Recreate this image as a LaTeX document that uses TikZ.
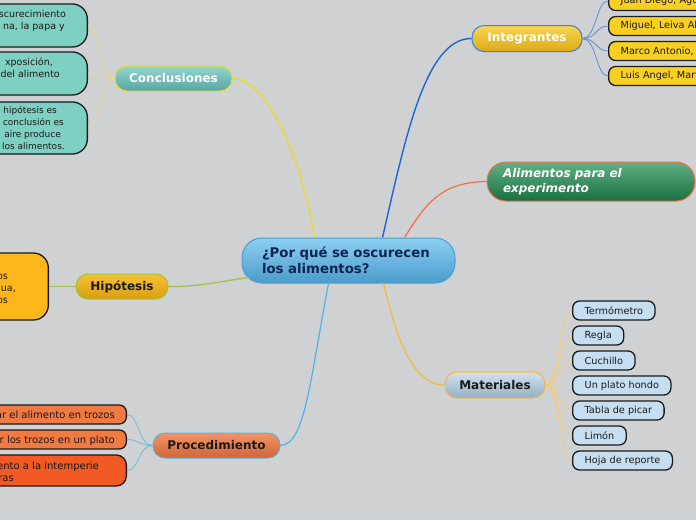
\documentclass[tikz,border=0pt]{standalone}
\usepackage{fontspec}
\setmainfont{DejaVu Sans}
\definecolor{bg}{HTML}{D0D1D3}
\definecolor{rootTop}{HTML}{8CD0F2}
\definecolor{rootBot}{HTML}{4A9CCC}
\definecolor{rootLine}{HTML}{4B9ED0}
\definecolor{rootText}{HTML}{0F2452}
\definecolor{intTop}{HTML}{F7D64E}
\definecolor{intBot}{HTML}{DDAA18}
\definecolor{intLine}{HTML}{3D7FD9}
\definecolor{intBranch}{HTML}{1E64D8}
\definecolor{intKid}{HTML}{F9D021}
\definecolor{intKidLine}{HTML}{5A8EE0}
\definecolor{aliTop}{HTML}{62B084}
\definecolor{aliBot}{HTML}{17703F}
\definecolor{aliLine}{HTML}{EF6F47}
\definecolor{conTop}{HTML}{92D6CE}
\definecolor{conBot}{HTML}{56A6A2}
\definecolor{conLine}{HTML}{E6DC2A}
\definecolor{conKid}{HTML}{7ED0C2}
\definecolor{conKidLine}{HTML}{EAD98A}
\definecolor{hipTop}{HTML}{F6C232}
\definecolor{hipBot}{HTML}{D89E10}
\definecolor{hipLine}{HTML}{9FC33C}
\definecolor{hipKid}{HTML}{FDB71A}
\definecolor{proTop}{HTML}{F39464}
\definecolor{proBot}{HTML}{D0643A}
\definecolor{proLine}{HTML}{4FB3E3}
\definecolor{proKidA}{HTML}{F07A42}
\definecolor{proKidB}{HTML}{F15A24}
\definecolor{proKidLine}{HTML}{6CBCE2}
\definecolor{matTop}{HTML}{D2E2EE}
\definecolor{matBot}{HTML}{93B0C5}
\definecolor{matLine}{HTML}{F6B83A}
\definecolor{matKid}{HTML}{C6DEF1}
\definecolor{matKidLine}{HTML}{F6CB70}
\definecolor{ink}{HTML}{1A1A1A}
\begin{document}
\begin{tikzpicture}[x=1pt,y=-1pt,
  topic/.style={rounded corners=12pt, line width=1pt, inner sep=0pt, minimum height=26pt,
                font=\fontsize{12}{14}\selectfont\bfseries},
  leaf/.style={draw=ink, line width=1.3pt, rounded corners=7pt, inner xsep=12pt, inner ysep=0pt,
               minimum height=19pt, font=\fontsize{9.7}{12}\selectfont, text=ink, align=left},
  bigleaf/.style={draw=ink, line width=1.3pt, rounded corners=15pt, inner sep=0pt},
  frag/.style={inner sep=0pt, anchor=base east, text=ink},
  branch/.style={line width=1.4pt},
  twig/.style={line width=0.8pt}
]
\useasboundingbox (0,0) rectangle (696,520);
\clip (0,0) rectangle (696,520);
\fill[bg] (0,0) rectangle (696,520);

% ---------- root ----------
\node[rounded corners=20pt, draw=rootLine, line width=1pt, top color=rootTop, bottom color=rootBot,
      minimum width=213pt, minimum height=45pt, inner xsep=20pt, inner ysep=0pt,
      text width=173pt, align=left, text=rootText,
      font=\fontsize{13.3}{16}\selectfont\bfseries] (root) at (348.5,260.5)
      {¿Por qué se oscurecen\\los alimentos?};

% ---------- main topics ----------
\node[topic, draw=intLine, top color=intTop, bottom color=intBot, text=white,
      minimum width=110pt] (int) at (527,38.5) {Integrantes};
\node[rounded corners=19pt, draw=aliLine, line width=1pt, top color=aliTop, bottom color=aliBot,
      minimum width=208pt, minimum height=39pt, inner xsep=16pt, inner ysep=0pt,
      text width=176pt, align=left, text=white,
      font=\fontsize{12}{15}\selectfont\bfseries\itshape] (ali) at (591,181.5)
      {Alimentos para el\\experimento};
\node[topic, draw=conLine, top color=conTop, bottom color=conBot, text=white,
      minimum width=117pt, minimum height=25pt] (con) at (173.5,78.5) {Conclusiones};
\node[topic, draw=hipLine, top color=hipTop, bottom color=hipBot, text=ink,
      minimum width=92pt, minimum height=25pt] (hip) at (122,286.5) {Hipótesis};
\node[topic, draw=proLine, top color=proTop, bottom color=proBot, text=ink,
      minimum width=127pt, minimum height=25pt] (pro) at (216.5,445.5) {Procedimiento};
\node[topic, draw=matLine, top color=matTop, bottom color=matBot, text=ink,
      minimum width=100pt] (mat) at (495,385) {Materiales};

% ---------- main branches ----------
\draw[branch, draw=conLine] ([xshift=-34pt]root.north) .. controls (300,150) and (265,79) .. (con.east);
\draw[branch, draw=intBranch] ([xshift=34pt]root.north) .. controls (405,140) and (425,38) .. (int.west);
\draw[branch, draw=aliLine, line width=1.2pt] ([xshift=56pt]root.north) .. controls (425,205) and (440,182) .. (ali.west);
\draw[branch, draw=hipLine, line width=1.2pt] ([xshift=8pt,yshift=6pt]root.south west) .. controls (220,281) and (200,287) .. (hip.east);
\draw[branch, draw=proLine, line width=1.2pt] ([xshift=-20pt]root.south) .. controls (310,380) and (305,445) .. (pro.east);
\draw[branch, draw=matLine, line width=1.2pt] ([xshift=35pt]root.south) .. controls (395,330) and (410,385) .. (mat.west);

% ---------- Integrantes children ----------
\node[leaf, fill=intKid, anchor=west, text width=126pt] (i1) at (608,1) {Juan Diego, Aguilar};
\node[leaf, fill=intKid, anchor=west, text width=126pt] (i2) at (608,26) {Miguel, Leiva Alvarez};
\node[leaf, fill=intKid, anchor=west, text width=126pt] (i3) at (608,51) {Marco Antonio, Ruiz};
\node[leaf, fill=intKid, anchor=west, text width=126pt] (i4) at (608,76) {Luis Angel, Martinez};
\foreach \k in {i1,i2,i3,i4}
  \draw[twig, draw=intKidLine] (int.east) .. controls +(14,0) and +(-12,0) .. (\k.west);

% ---------- Materiales children ----------
\node[leaf, fill=matKid, anchor=west] (m1) at (572,310.5) {Termómetro};
\node[leaf, fill=matKid, anchor=west] (m2) at (572,335.5) {Regla};
\node[leaf, fill=matKid, anchor=west] (m3) at (572,360.5) {Cuchillo};
\node[leaf, fill=matKid, anchor=west] (m4) at (572,385.5) {Un plato hondo};
\node[leaf, fill=matKid, anchor=west] (m5) at (572,410.5) {Tabla de picar};
\node[leaf, fill=matKid, anchor=west] (m6) at (572,435.5) {Limón};
\node[leaf, fill=matKid, anchor=west] (m7) at (572,460.5) {Hoja de reporte};
\foreach \k in {m1,m2,m3,m4,m5,m6,m7}
  \draw[twig, draw=matKidLine] (mat.east) .. controls +(14,0) and +(-12,0) .. (\k.west);

% ---------- Conclusiones children ----------
\node[bigleaf, fill=conKid, minimum width=240pt, minimum height=43pt, anchor=east] (c1) at (88,25.5) {};
\node[bigleaf, fill=conKid, minimum width=240pt, minimum height=43pt, anchor=east] (c2) at (88,73.5) {};
\node[bigleaf, fill=conKid, minimum width=240pt, minimum height=52pt, anchor=east] (c3) at (88,128) {};
\begin{scope}[every node/.append style={font=\fontsize{9.5}{12}\selectfont}]
\node[frag] (c1a) at (66,17) {scurecimiento};
\node[frag] (c1b) at (65,29) {na, la papa y};
\node[frag] (c2a) at (53,65) {xposición,};
\node[frag] (c2b) at (60,77) {del alimento};
\end{scope}
\begin{scope}[every node/.append style={font=\fontsize{9}{12}\selectfont}]
\node[frag] (c3a) at (57,113) {hipótesis es};
\node[frag] (c3b) at (64,125) {conclusión es};
\node[frag] (c3c) at (61,137) {aire produce};
\node[frag] (c3d) at (65,149) {los alimentos.};
\end{scope}
\foreach \k in {c1,c2,c3}
  \draw[twig, draw=conKidLine] (con.west) .. controls +(-14,0) and +(12,0) .. (\k.east);

% ---------- Hipótesis child ----------
\node[bigleaf, fill=hipKid, minimum width=240pt, minimum height=67pt, anchor=east] (h1) at (49,286.5) {};
\begin{scope}[every node/.append style={font=\fontsize{9.5}{12}\selectfont}]
\node[frag] (h1a) at (8,279) {os};
\node[frag] (h1b) at (16,291) {ua,};
\node[frag] (h1c) at (8,303) {os};
\end{scope}
\draw[twig, draw=hipLine, line width=1pt] (hip.west) -- (h1.east);

% ---------- Procedimiento children ----------
\node[leaf, fill=proKidA, rounded corners=7pt, minimum width=240pt, anchor=east] (p1) at (127,414.5) {};
\node[leaf, fill=proKidA, rounded corners=7pt, minimum width=240pt, anchor=east] (p2) at (127,439.5) {};
\node[bigleaf, fill=proKidB, rounded corners=10pt, minimum width=240pt, minimum height=31pt, anchor=east] (p3) at (127,470.5) {};
\begin{scope}[every node/.append style={font=\fontsize{10}{12}\selectfont}]
\node[frag] (p1a) at (115,418) {ar el alimento en trozos};
\node[frag] (p2a) at (115,443) {r los trozos en un plato};
\node[frag] (p3a) at (99,469) {ento a la intemperie};
\node[frag] (p3b) at (14,481) {ras};
\end{scope}
\foreach \k in {p1,p2,p3}
  \draw[twig, draw=proKidLine] (pro.west) .. controls +(-14,0) and +(12,0) .. (\k.east);
\end{tikzpicture}
\end{document}
